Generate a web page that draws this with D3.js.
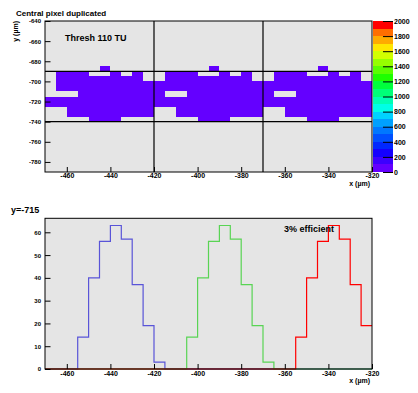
<!DOCTYPE html>
<html>
<head>
<meta charset="utf-8">
<script src="https://cdn.jsdelivr.net/npm/d3@7"></script>
<style>
  body { margin: 0; background: #fff; }
  text { font-family: "Liberation Sans", Arial, sans-serif; font-weight: bold; }
</style>
</head>
<body>
<div id="chart"></div>
<script>
// ---- data ----
// 5 um bins from -470 to -320
const binLow = d3.range(-470, -320, 5);

// top map: lower y edge of each row, '#' = hit pixel
const mapRowLow = [-690, -695, -700, -705, -710, -715, -720, -725, -730, -735, -740];
const mapRows = [
  ".....#.........#.........#....",
  ".###..#.#..###..#.#..###..#.#.",
  ".########..########..########.",
  ".#############################",
  ".#############################",
  "...########..########..#######",
  "##############################",
  "##############################",
  "..########..########..########",
  "..########..########..########",
  "....###.......###.......###..."
];

// y = -715 slice, counts per bin
const blueCounts  = [0,0,0,14,40,56,63,57,37,19, 3,0,0,0,0,0,0,0,0,0, 0,0,0,0,0,0,0,0,0,0];
const greenCounts = [0,0,0,0,0,0,0,0,0,0, 0,0,0,14,40,56,63,57,37,19, 3,0,0,0,0,0,0,0,0,0];
const redCounts   = [0,0,0,0,0,0,0,0,0,0, 0,0,0,0,0,0,0,0,0,0, 0,0,0,14,40,56,63,57,37,19];

const xTicks = [-460, -440, -420, -400, -380, -360, -340, -320];
const yTicksTop = [-780, -760, -740, -720, -700, -680, -660, -640];
const yTicksBot = [0, 10, 20, 30, 40, 50, 60];
const zTicks = [0, 200, 400, 600, 800, 1000, 1200, 1400, 1600, 1800, 2000];

const palette = ["#6400ff","#3c00ff","#1400ff","#0028ff","#0050ff","#0078ff","#00a0ff","#00d2ff",
  "#00ffe6","#00ffb4","#00ff78","#00ff3c","#1eff00","#5aff00","#96ff00","#d2ff00",
  "#ffe600","#ffaa00","#ff6e00","#ff0000"];

// ---- layout ----
const W = 418, H = 393;
const svg = d3.select("#chart").append("svg").attr("width", W).attr("height", H);

const x = d3.scaleLinear().domain([-470, -320]).range([45, 372]);
const yT = d3.scaleLinear().domain([-790, -640]).range([172, 21]);
const yB = d3.scaleLinear().domain([0, 66.15]).range([369, 218.3]);
const z = d3.scaleLinear().domain([0, 2000]).range([172, 21]);
const zColor = d3.scaleQuantize().domain([0, 2000]).range(palette);

const frameFill = "#e5e5e5";

const drawXAxis = (y0, pad) => {
  const g = svg.append("g").attr("transform", `translate(0,${y0})`);
  g.call(d3.axisBottom(x).tickValues(d3.range(-470, -319, 5)).tickSizeInner(-2.5).tickSizeOuter(0).tickFormat(""));
  g.call(d3.axisBottom(x).tickValues(xTicks).tickSizeInner(-5).tickSizeOuter(0).tickPadding(pad).tickFormat(d => String(d)));
  g.select(".domain").remove();
  g.selectAll("text").attr("font-size", 7).attr("font-family", null);
};
const drawYAxis = (y, majors, minors) => {
  const g = svg.append("g").attr("transform", `translate(${x.range()[0]},0)`);
  g.call(d3.axisLeft(y).tickValues(minors).tickSizeInner(-3).tickSizeOuter(0).tickFormat(""));
  g.call(d3.axisLeft(y).tickValues(majors).tickSizeInner(-5.5).tickSizeOuter(0).tickPadding(4).tickFormat(d => String(d)));
  g.select(".domain").remove();
  g.selectAll("text").attr("font-size", 6).attr("font-family", null);
};

// ---- top panel: map ----
svg.append("rect").attr("x", 45).attr("y", yT(-640)).attr("width", 327).attr("height", yT(-790) - yT(-640)).attr("fill", frameFill);

const cells = [];
mapRows.forEach((row, i) => row.split("").forEach((c, j) => {
  if (c === "#") cells.push({ x0: binLow[j], y0: mapRowLow[i] });
}));
svg.append("g").selectAll("rect").data(cells).join("rect")
  .attr("x", d => x(d.x0)).attr("width", d => x(d.x0 + 5) - x(d.x0))
  .attr("y", d => yT(d.y0 + 5)).attr("height", d => yT(d.y0) - yT(d.y0 + 5))
  .attr("fill", zColor(50)).attr("shape-rendering", "crispEdges");

// pixel boundaries
svg.append("g").selectAll("line.v").data([-420, -370]).join("line")
  .attr("x1", d => x(d)).attr("x2", d => x(d)).attr("y1", yT(-640)).attr("y2", yT(-790))
  .attr("stroke", "#000").attr("stroke-width", 1.2);
svg.append("g").selectAll("line.h").data([-690, -740]).join("line")
  .attr("x1", 45).attr("x2", 372).attr("y1", d => yT(d)).attr("y2", d => yT(d))
  .attr("stroke", "#000").attr("stroke-width", 1.2);

drawXAxis(yT(-790), 1.5);
drawYAxis(yT, yTicksTop, d3.range(-790, -639, 5));
svg.append("rect").attr("x", 45).attr("y", yT(-640)).attr("width", 327).attr("height", yT(-790) - yT(-640))
  .attr("fill", "none").attr("stroke", "#000");

// colour bar
svg.append("g").selectAll("rect").data(palette).join("rect")
  .attr("x", 373).attr("width", 20)
  .attr("y", (d, i) => z((i + 1) * 100)).attr("height", (d, i) => z(i * 100) - z((i + 1) * 100))
  .attr("fill", d => d).attr("shape-rendering", "crispEdges");
const zg = svg.append("g").attr("transform", "translate(393,0)");
zg.call(d3.axisRight(z).tickValues(zTicks).tickSizeInner(-10).tickSizeOuter(0).tickPadding(1).tickFormat(d => String(d)));
zg.select(".domain").remove();
zg.selectAll("text").attr("font-size", 7).attr("font-family", null);

// top texts
svg.append("text").attr("x", 16).attr("y", 15.5).attr("font-size", 8).text("Central pixel duplicated");
svg.append("text").attr("x", 65).attr("y", 41).attr("font-size", 9).text("Thresh 110 TU");
svg.append("text").attr("transform", "translate(18,21) rotate(-90)").attr("text-anchor", "end")
  .attr("font-size", 7).text("y (µm)");
svg.append("text").attr("x", 370).attr("y", 186).attr("text-anchor", "end").attr("font-size", 7).text("x (µm)");

// ---- bottom panel: slice ----
svg.append("rect").attr("x", 45).attr("y", yB(66.15)).attr("width", 327).attr("height", yB(0) - yB(66.15)).attr("fill", frameFill);

const step = d3.line().x(d => x(d[0])).y(d => yB(d[1])).curve(d3.curveStepAfter);
const series = [
  { counts: blueCounts, color: "#5954d8" },
  { counts: greenCounts, color: "#59d454" },
  { counts: redCounts, color: "#ff0000" }
];
series.forEach(s => {
  const pts = binLow.map((b, i) => [b, s.counts[i]]);
  pts.push([-320, s.counts[s.counts.length - 1]]);
  svg.append("path").attr("d", step(pts)).attr("fill", "none")
    .attr("stroke", s.color).attr("stroke-width", 1.2);
});

drawXAxis(yB(0), 2);
drawYAxis(yB, yTicksBot, d3.range(0, 66, 2));
svg.append("rect").attr("x", 45).attr("y", yB(66.15)).attr("width", 327).attr("height", yB(0) - yB(66.15))
  .attr("fill", "none").attr("stroke", "#000");

svg.append("text").attr("x", 11).attr("y", 212.7).attr("font-size", 9).text("y=-715");
svg.append("text").attr("x", 284).attr("y", 231.7).attr("font-size", 9).text("3% efficient");
svg.append("text").attr("x", 370).attr("y", 383).attr("text-anchor", "end").attr("font-size", 7).text("x (µm)");
</script>
</body>
</html>
